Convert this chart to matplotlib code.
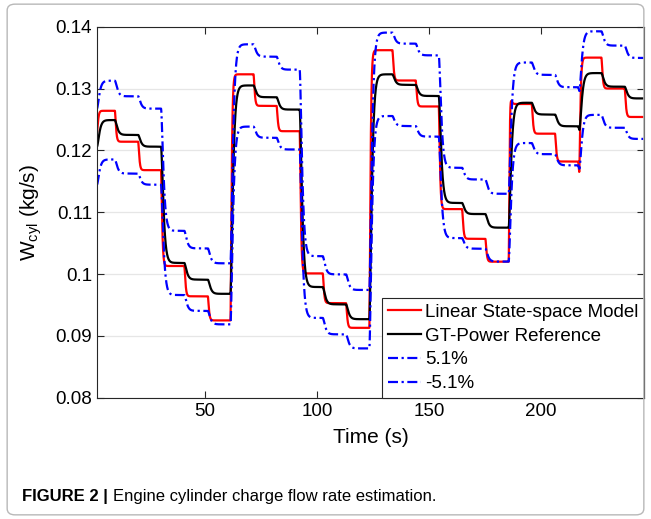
import numpy as np
import matplotlib.pyplot as plt
from matplotlib.patches import FancyBboxPatch

plt.rcParams["font.family"] = ["Liberation Sans", "DejaVu Sans"]

# instants where the operating point is stepped (s)
switch_times = [9.8, 20.2, 30.4, 40.8, 51.3, 61.4, 71.7, 82.0, 92.3, 102.6, 113.0,
                123.4, 133.7, 144.1, 154.4, 164.8, 175.2, 185.6, 195.9, 206.3,
                216.6, 227.0, 237.4]

# settled cylinder charge flow (kg/s) on each interval between switches
gt_levels = [0.1249, 0.1225, 0.1206,
             0.1018, 0.0991, 0.0968,
             0.1305, 0.1286, 0.1266,
             0.0979, 0.0951, 0.0927,
             0.1323, 0.1306, 0.1288,
             0.1115, 0.1097, 0.1075,
             0.1277, 0.1258, 0.1239,
             0.1325, 0.1303, 0.1284]
lss_levels = [0.1264, 0.1214, 0.1168,
              0.1013, 0.0964, 0.0925,
              0.1323, 0.1272, 0.1231,
              0.1001, 0.0953, 0.0913,
              0.1362, 0.1313, 0.1271,
              0.1105, 0.1057, 0.1020,
              0.1275, 0.1227, 0.1182,
              0.1350, 0.1300, 0.1254]
gt_start = 0.1206
lss_start = 0.1229

# short excursions right after a switch (time, target)
gt_kick_times = [216.6]
gt_kick_values = [0.1210]
lss_kick_times = [185.6, 216.6]
lss_kick_values = [0.1390, 0.1150]

band = 0.051  # error band around the reference

dt = 0.02
t = np.arange(1.8, 246.0, dt)


def response(levels, start, tau, kick_t, kick_v, kick_len=0.5):
    u = np.asarray(levels)[np.searchsorted(switch_times, t, side="right")]
    for kt, kv in zip(kick_t, kick_v):
        u[(t >= kt) & (t < kt + kick_len)] = kv
    y1 = y2 = start
    out = np.empty_like(t)
    a = dt / tau
    for i, ui in enumerate(u):
        y1 += a * (ui - y1)
        y2 += a * (y1 - y2)
        out[i] = y2
    return out


gt = response(gt_levels, gt_start, 0.65, gt_kick_times, gt_kick_values)
lss = response(lss_levels, lss_start, 0.3, lss_kick_times, lss_kick_values)

fig = plt.figure(figsize=(6.51, 5.19), dpi=100)
ax = fig.add_axes([97 / 651, 1 - 397.7 / 519, 547 / 651, 371 / 519])

ax.plot(t, lss, color="red", lw=1.6, label="Linear State-space Model")
ax.plot(t, gt, color="black", lw=1.6, label="GT-Power Reference")
ax.plot(t, gt * (1 + band), color="blue", lw=1.6, dashes=(4.5, 1.6, 1, 1.6),
        label="5.1%")
ax.plot(t, gt * (1 - band), color="blue", lw=1.6, dashes=(4.5, 1.6, 1, 1.6),
        label="-5.1%")

ax.set_xlim(1.8, 246)
ax.set_ylim(0.08, 0.14)
ax.set_xticks([50, 100, 150, 200])
ax.set_yticks([0.08, 0.09, 0.10, 0.11, 0.12, 0.13, 0.14])
ax.set_yticklabels(["0.08", "0.09", "0.1", "0.11", "0.12", "0.13", "0.14"])
ax.tick_params(direction="in", top=True, right=True, labelsize=13.5,
               length=5, width=0.8, colors="#262626", labelcolor="black")
ax.yaxis.grid(True, color="#e6e6e6", lw=0.9)
ax.set_axisbelow(True)
for s in ax.spines.values():
    s.set_color("#262626")
    s.set_linewidth(0.8)

ax.set_xlabel("Time (s)", fontsize=15, labelpad=6)
ax.set_ylabel("W$_\\mathregular{cyl}$ (kg/s)", fontsize=15, labelpad=8)

leg = ax.legend(loc="lower right", fontsize=13.5, borderaxespad=0,
                handlelength=1.8, handletextpad=0.2, labelspacing=0.35,
                borderpad=0.3, fancybox=False, framealpha=1)
leg.get_frame().set_edgecolor("#262626")
leg.get_frame().set_linewidth(0.8)

# caption under the plot
cap1 = fig.text(22 / 651, 1 - 497 / 519, "FIGURE 2 |", fontsize=12,
                fontweight="bold", va="center")
fig.canvas.draw()
bb = cap1.get_window_extent()
fig.text(bb.x1 / fig.bbox.width + 0.008, 1 - 497 / 519,
         "Engine cylinder charge flow rate estimation.", fontsize=12,
         va="center")

frame = FancyBboxPatch((0.011, 0.008), 0.978, 0.984,
                       boxstyle="round,pad=0,rounding_size=0.012",
                       transform=fig.transFigure, fill=False,
                       edgecolor="#b8b8b8", lw=1)
fig.patches.append(frame)

fig.savefig("out.png", dpi=100)
